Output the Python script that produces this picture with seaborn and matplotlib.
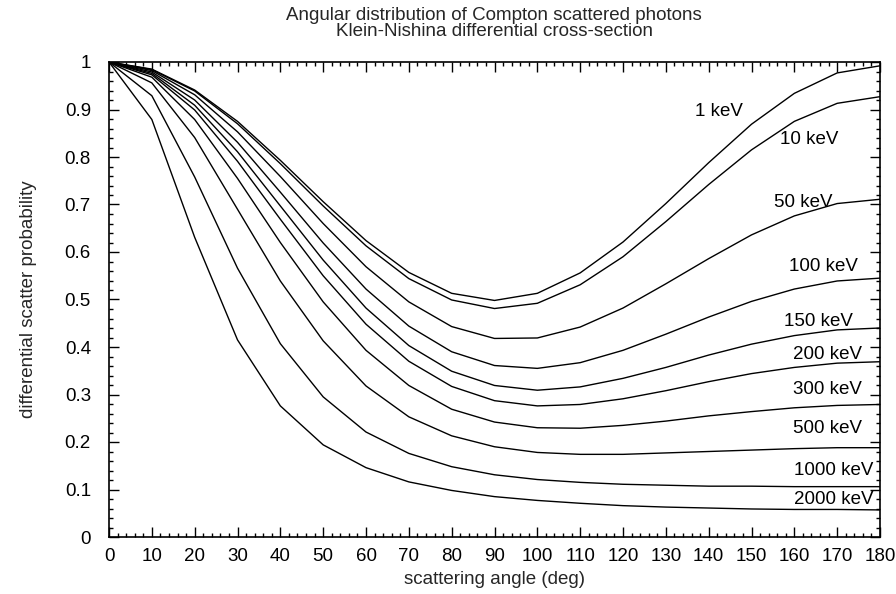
import matplotlib
matplotlib.use("Agg")
import matplotlib.pyplot as plt
from matplotlib.ticker import MultipleLocator, FormatStrFormatter
import seaborn as sns
import pandas as pd

angles = [0, 10, 20, 30, 40, 50, 60, 70, 80, 90, 100, 110, 120, 130, 140, 150, 160, 170, 180]

energies = ["1 keV", "10 keV", "50 keV", "100 keV", "150 keV", "200 keV",
            "300 keV", "500 keV", "1000 keV", "2000 keV"]

p_1keV = [1.0, 0.985, 0.941, 0.875, 0.793, 0.706, 0.624, 0.557, 0.513, 0.498,
          0.513, 0.556, 0.621, 0.702, 0.788, 0.869, 0.934, 0.977, 0.992]
p_10keV = [1.0, 0.984, 0.939, 0.870, 0.786, 0.697, 0.613, 0.544, 0.499, 0.481,
           0.492, 0.531, 0.590, 0.664, 0.742, 0.815, 0.875, 0.913, 0.927]
p_50keV = [1.0, 0.982, 0.931, 0.853, 0.759, 0.660, 0.569, 0.495, 0.443, 0.418,
           0.419, 0.442, 0.482, 0.533, 0.586, 0.636, 0.676, 0.702, 0.711]
p_100keV = [1.0, 0.979, 0.920, 0.831, 0.726, 0.619, 0.522, 0.444, 0.390, 0.361,
            0.355, 0.367, 0.393, 0.427, 0.463, 0.496, 0.522, 0.539, 0.545]
p_150keV = [1.0, 0.976, 0.909, 0.811, 0.697, 0.583, 0.482, 0.403, 0.349, 0.319,
            0.309, 0.316, 0.334, 0.357, 0.383, 0.406, 0.424, 0.436, 0.440]
p_200keV = [1.0, 0.973, 0.899, 0.791, 0.669, 0.550, 0.448, 0.370, 0.317, 0.287,
            0.276, 0.279, 0.291, 0.308, 0.327, 0.344, 0.357, 0.366, 0.369]
p_300keV = [1.0, 0.968, 0.879, 0.755, 0.620, 0.495, 0.393, 0.319, 0.269, 0.242,
            0.230, 0.229, 0.235, 0.244, 0.255, 0.264, 0.272, 0.277, 0.279]
p_500keV = [1.0, 0.956, 0.841, 0.690, 0.539, 0.413, 0.318, 0.253, 0.213, 0.190,
            0.178, 0.174, 0.174, 0.177, 0.180, 0.183, 0.186, 0.188, 0.188]
p_1000keV = [1.0, 0.929, 0.758, 0.566, 0.407, 0.295, 0.221, 0.176, 0.148, 0.131,
             0.121, 0.115, 0.111, 0.109, 0.107, 0.107, 0.106, 0.106, 0.106]
p_2000keV = [1.0, 0.879, 0.631, 0.415, 0.276, 0.194, 0.146, 0.116, 0.098, 0.085,
             0.077, 0.071, 0.066, 0.063, 0.061, 0.059, 0.058, 0.058, 0.057]

series = [p_1keV, p_10keV, p_50keV, p_100keV, p_150keV, p_200keV,
          p_300keV, p_500keV, p_1000keV, p_2000keV]

# label anchor points (right edge, vertical centre) in data units
label_x = [148.0, 170.2, 169.0, 174.9, 173.7, 175.8, 175.8, 175.8, 178.4, 178.4]
label_y = [0.899, 0.840, 0.709, 0.573, 0.457, 0.389, 0.314, 0.232, 0.145, 0.084]

rows = []
for e, vals in zip(energies, series):
    for a, v in zip(angles, vals):
        rows.append({"angle": a, "prob": v, "energy": e})
df = pd.DataFrame(rows)

sns.set_style("ticks")
plt.rcParams["font.family"] = ["Liberation Sans", "DejaVu Sans"]
FS = 13.5

fig = plt.figure(figsize=(8.96, 5.94), dpi=100)
ax = fig.add_axes([109 / 896, 57 / 594, 771 / 896, 475 / 594])

sns.lineplot(data=df, x="angle", y="prob", hue="energy", hue_order=energies,
             palette=["black"] * len(energies), linewidth=1.0, legend=False,
             ax=ax, sort=False)

for lbl, lx, ly in zip(energies, label_x, label_y):
    ax.text(lx, ly, lbl, ha="right", va="center_baseline", fontsize=FS,
            color="black")

ax.set_xlim(0, 180)
ax.set_ylim(0, 1)
ax.xaxis.set_major_locator(MultipleLocator(10))
ax.xaxis.set_minor_locator(MultipleLocator(2))
ax.yaxis.set_major_locator(MultipleLocator(0.1))
ax.yaxis.set_minor_locator(MultipleLocator(0.02))
ax.yaxis.set_major_formatter(FormatStrFormatter("%g"))

ax.tick_params(which="both", direction="in", top=True, right=True,
               labelsize=FS, colors="black", width=1.0)
ax.tick_params(which="major", length=7)
ax.tick_params(which="minor", length=3)
ax.tick_params(axis="x", which="major", pad=8)
ax.tick_params(axis="y", which="major", pad=13)
for sp in ax.spines.values():
    sp.set_visible(True)
    sp.set_linewidth(1.2)
    sp.set_color("black")

ax.set_xlabel("scattering angle (deg)", fontsize=FS)
ax.set_ylabel("differential scatter probability", fontsize=FS)
ax.xaxis.set_label_coords(0.5, -0.071)
ax.yaxis.set_label_coords(-0.094, 0.5)

fig.text(494 / 896, 1 - 14 / 594,
         "Angular distribution of Compton scattered photons",
         ha="center", va="center_baseline", fontsize=FS)
fig.text(494 / 896, 1 - 30 / 594,
         "Klein-Nishina differential cross-section",
         ha="center", va="center_baseline", fontsize=FS)

fig.savefig("out.png", dpi=100)
